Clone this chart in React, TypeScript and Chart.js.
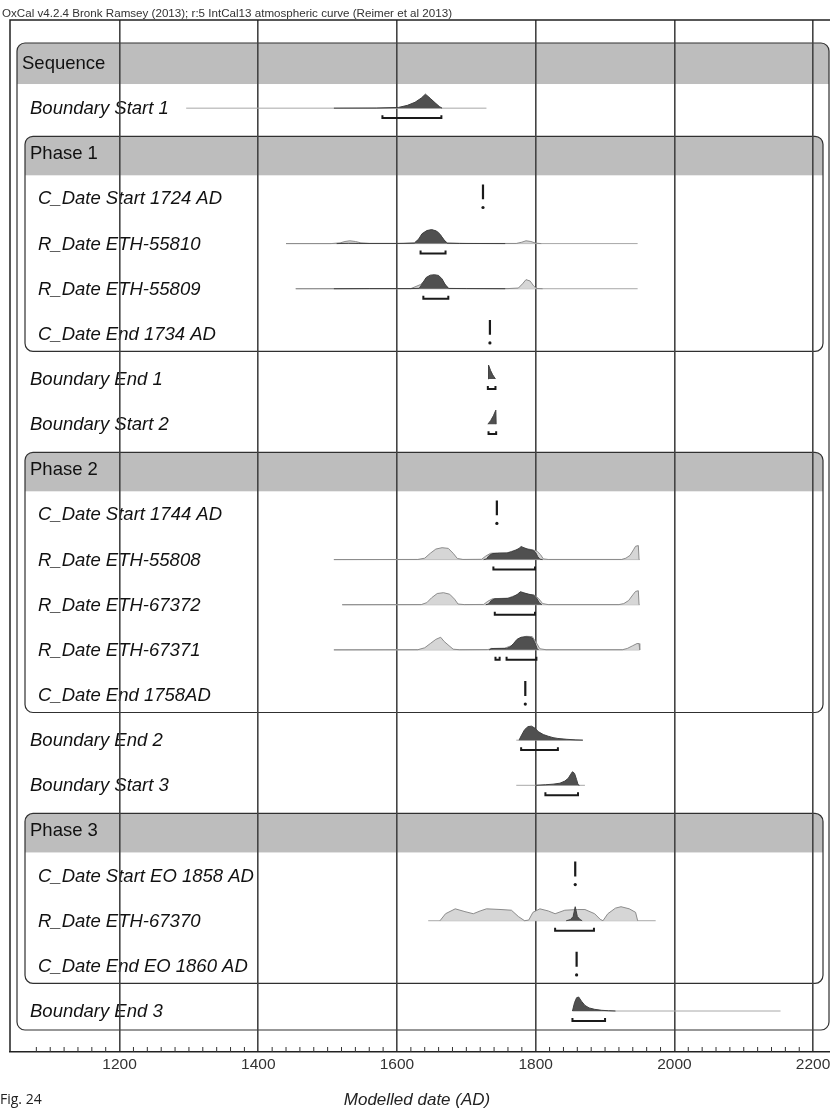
import React, { useEffect, useRef } from "react";
import { Chart, registerables } from "chart.js";

Chart.register(...registerables);

// ---------- texts ----------
const CHART_TITLE =
  "OxCal v4.2.4 Bronk Ramsey (2013); r:5 IntCal13 atmospheric curve (Reimer et al 2013)";
const AXIS_TITLE = "Modelled date (AD)";
const FIG_LABEL = "Fig. 24";

// ---------- axis ----------
const X_MIN = 1042;
const X_MAX = 2233;
const TICK_STEP = 20;
const LABEL_STEP = 200;

// ---------- rows ----------
const rowLabels = [
  "Sequence",
  "Boundary Start 1",
  "Phase 1",
  "C_Date Start 1724 AD",
  "R_Date ETH-55810",
  "R_Date ETH-55809",
  "C_Date End 1734 AD",
  "Boundary End 1",
  "Boundary Start 2",
  "Phase 2",
  "C_Date Start 1744 AD",
  "R_Date ETH-55808",
  "R_Date ETH-67372",
  "R_Date ETH-67371",
  "C_Date End 1758AD",
  "Boundary End 2",
  "Boundary Start 3",
  "Phase 3",
  "C_Date Start EO 1858 AD",
  "R_Date ETH-67370",
  "C_Date End EO 1860 AD",
  "Boundary End 3",
];
const rowKinds = [
  "sequence", "boundary", "phase", "item", "item", "item", "item",
  "boundary", "boundary", "phase", "item", "item", "item", "item", "item",
  "boundary", "boundary", "phase", "item", "item", "item", "boundary",
];

const sequenceFirst = 0;
const sequenceLast = 21;
const phaseFirst = [2, 9, 17];
const phaseLast = [6, 14, 20];

// ---------- C_Date point estimates ----------
const cDateRows = [3, 6, 10, 14, 18, 20];
const cDateYears = [1724, 1734, 1744, 1785, 1857, 1859];

// ---------- thin full-range lines ----------
const spanRows = [1, 4, 5, 11, 12, 13, 15, 16, 19, 21];
const spanFrom = [1296, 1440, 1454, 1509, 1521, 1509, 1772, 1772, 1645, 1853];
const spanTo = [1729, 1947, 1947, 1950, 1950, 1950, 1868, 1871, 1973, 2153];

// ---------- 95.4% range brackets ----------
const bracketRows = [1, 4, 5, 7, 8, 11, 12, 13, 13, 15, 16, 19, 21];
const bracketFrom = [1579, 1634, 1638, 1731, 1732, 1739, 1741, 1742, 1758, 1779, 1814, 1828, 1853];
const bracketTo = [1664, 1670, 1674, 1742, 1743, 1799, 1799, 1748, 1801, 1832, 1861, 1884, 1900];

// ---------- posterior (modelled) densities: [year, relative height] ----------
const postStart1 = [[1509, 0], [1570, 0.01], [1602, 0.05], [1615, 0.2], [1626, 0.42], [1635, 0.72], [1641, 1.0], [1648, 0.7], [1655, 0.38], [1661, 0.12], [1665, 0]];
const post55810 = [[1513, 0], [1530, 0.02], [1545, 0.01], [1600, 0.01], [1625, 0.03], [1631, 0.3], [1636, 0.7], [1643, 0.93], [1650, 1.0], [1657, 0.9], [1663, 0.6], [1668, 0.25], [1672, 0.03], [1690, 0.01], [1756, 0]];
const post55809 = [[1509, 0], [1560, 0.01], [1620, 0.01], [1632, 0.03], [1637, 0.4], [1642, 0.8], [1648, 0.97], [1654, 1.0], [1660, 0.95], [1665, 0.7], [1670, 0.25], [1674, 0.02], [1700, 0.01], [1756, 0]];
const postEnd1 = [[1731.5, 0], [1732, 1.0], [1735, 0.6], [1738, 0.3], [1742, 0]];
const postStart2 = [[1731, 0], [1735, 0.25], [1739, 0.6], [1742.5, 1.0], [1743, 0]];
const post55808 = [[1725, 0], [1729, 0.05], [1733, 0.3], [1738, 0.43], [1748, 0.45], [1758, 0.45], [1765, 0.55], [1771, 0.66], [1776, 0.8], [1779, 0.93], [1783, 0.85], [1789, 0.72], [1796, 0.66], [1800, 0.5], [1803, 0.2], [1806, 0.03], [1810, 0]];
const post67372 = [[1728, 0], [1732, 0.05], [1736, 0.3], [1741, 0.42], [1750, 0.43], [1760, 0.45], [1767, 0.55], [1773, 0.72], [1778, 0.93], [1783, 0.85], [1790, 0.74], [1797, 0.68], [1801, 0.5], [1805, 0.15], [1809, 0]];
const post67371 = [[1733, 0], [1736, 0.1], [1750, 0.1], [1758, 0.1], [1763, 0.2], [1768, 0.45], [1773, 0.75], [1779, 0.9], [1785, 0.93], [1790, 0.92], [1795, 0.85], [1799, 0.5], [1802, 0.1], [1804, 0]];
const postEnd2 = [[1776, 0], [1779, 0.3], [1784, 0.75], [1789, 0.97], [1794, 1.0], [1799, 0.85], [1804, 0.6], [1811, 0.4], [1818, 0.28], [1825, 0.18], [1832, 0.12], [1845, 0.06], [1858, 0.02], [1868, 0]];
const postStart3 = [[1800, 0], [1814, 0.04], [1825, 0.08], [1835, 0.15], [1842, 0.3], [1847, 0.5], [1850, 0.75], [1853, 0.97], [1856, 0.85], [1859, 0.4], [1861, 0.05], [1863, 0]];
const post67370 = [[1844, 0], [1850, 0.08], [1854, 0.3], [1857, 1.0], [1860, 0.3], [1864, 0.08], [1867, 0]];
const postEnd3 = [[1853, 0], [1856, 0.6], [1859, 0.95], [1862, 1.0], [1866, 0.7], [1871, 0.4], [1877, 0.22], [1885, 0.12], [1895, 0.05], [1905, 0.02], [1915, 0]];

const posteriorRows = [1, 4, 5, 7, 8, 11, 12, 13, 15, 16, 19, 21];
const posteriors = [postStart1, post55810, post55809, postEnd1, postStart2, post55808, post67372, post67371, postEnd2, postStart3, post67370, postEnd3];

// ---------- unmodelled (prior) likelihoods ----------
const prior55810 = [[1440, 0], [1505, 0], [1518, 0.05], [1525, 0.15], [1532, 0.2], [1540, 0.15], [1548, 0.05], [1560, 0.01], [1610, 0.01], [1625, 0.05], [1632, 0.35], [1640, 0.8], [1650, 0.88], [1660, 0.8], [1667, 0.3], [1673, 0.03], [1700, 0.01], [1772, 0.01], [1780, 0.1], [1786, 0.2], [1793, 0.15], [1800, 0.03], [1808, 0]];
const prior55809 = [[1454, 0], [1620, 0.01], [1634, 0.3], [1645, 0.85], [1660, 0.85], [1668, 0.4], [1675, 0.02], [1760, 0.01], [1775, 0.05], [1781, 0.35], [1786, 0.65], [1792, 0.55], [1797, 0.2], [1801, 0.02], [1810, 0]];
const prior55808 = [[1509, 0], [1630, 0.01], [1640, 0.1], [1648, 0.45], [1656, 0.75], [1665, 0.85], [1674, 0.8], [1681, 0.45], [1687, 0.08], [1695, 0.01], [1722, 0.02], [1728, 0.25], [1735, 0.45], [1745, 0.47], [1760, 0.5], [1775, 0.75], [1785, 0.8], [1795, 0.7], [1802, 0.6], [1807, 0.35], [1811, 0.05], [1818, 0.01], [1924, 0.01], [1930, 0.1], [1936, 0.3], [1941, 0.7], [1944, 0.95], [1948, 1.0], [1949, 0]];
const prior67372 = [[1521, 0], [1635, 0.01], [1643, 0.15], [1650, 0.5], [1658, 0.8], [1667, 0.86], [1676, 0.75], [1683, 0.4], [1688, 0.05], [1697, 0.01], [1725, 0.02], [1731, 0.25], [1738, 0.43], [1760, 0.47], [1775, 0.75], [1785, 0.8], [1798, 0.68], [1804, 0.45], [1810, 0.08], [1818, 0.01], [1920, 0.01], [1927, 0.08], [1934, 0.3], [1940, 0.7], [1944, 0.95], [1948, 1.0], [1949, 0]];
const prior67371 = [[1509, 0], [1630, 0.01], [1640, 0.15], [1648, 0.45], [1656, 0.75], [1663, 0.9], [1668, 0.6], [1675, 0.3], [1681, 0.05], [1690, 0.01], [1730, 0.02], [1740, 0.1], [1755, 0.12], [1765, 0.3], [1775, 0.8], [1786, 0.97], [1795, 0.95], [1801, 0.5], [1806, 0.08], [1815, 0.01], [1925, 0.01], [1932, 0.1], [1940, 0.3], [1946, 0.45], [1949, 0.45], [1950, 0]];
const prior67370 = [[1662, 0], [1670, 0.5], [1684, 0.85], [1698, 0.65], [1710, 0.5], [1720, 0.7], [1729, 0.85], [1750, 0.8], [1765, 0.75], [1775, 0.3], [1784, 0], [1790, 0.05], [1796, 0.6], [1806, 0.85], [1818, 0.7], [1828, 0.5], [1842, 0.75], [1860, 0.8], [1871, 0.8], [1885, 0.5], [1893, 0.1], [1897, 0], [1904, 0.5], [1915, 0.9], [1923, 1.0], [1935, 0.85], [1944, 0.6], [1947, 0]];

const priorRows = [4, 5, 11, 12, 13, 19];
const priors = [prior55810, prior55809, prior55808, prior67372, prior67371, prior67370];

// ---------- geometry in row units ----------
const AMP = 0.31; // density height
const BRACKET_OFF = 0.22;
const BRACKET_HOOK = 0.065;
const Y_MIN = -0.953;
const Y_MAX = 21.908;

const FONT = '"Liberation Sans", Arial, Helvetica, sans-serif';

function buildDatasets() {
  const ds: any[] = [];
  spanRows.forEach((r, i) => {
    ds.push({
      data: [{ x: spanFrom[i], y: r }, { x: spanTo[i], y: r }],
      borderColor: "#a8a8a8",
      borderWidth: 1,
      pointRadius: 0,
      fill: false,
      order: 4,
    });
  });
  priorRows.forEach((r, i) => {
    ds.push({
      data: priors[i].map(([x, h]) => ({ x, y: r - h * AMP })),
      borderColor: "#8c8c8c",
      backgroundColor: "#d6d6d6",
      borderWidth: 1,
      pointRadius: 0,
      fill: { value: r },
      order: 3,
    });
  });
  posteriorRows.forEach((r, i) => {
    ds.push({
      data: posteriors[i].map(([x, h]) => ({ x, y: r - h * AMP })),
      borderColor: "#404040",
      backgroundColor: "#505050",
      borderWidth: 1,
      pointRadius: 0,
      fill: { value: r },
      order: 2,
    });
  });
  bracketRows.forEach((r, i) => {
    const yb = r + BRACKET_OFF;
    ds.push({
      data: [
        { x: bracketFrom[i], y: yb - BRACKET_HOOK },
        { x: bracketFrom[i], y: yb },
        { x: bracketTo[i], y: yb },
        { x: bracketTo[i], y: yb - BRACKET_HOOK },
      ],
      borderColor: "#1a1a1a",
      borderWidth: 2,
      pointRadius: 0,
      fill: false,
      order: 1,
    });
  });
  cDateRows.forEach((r, i) => {
    ds.push({
      data: [{ x: cDateYears[i], y: r - AMP }, { x: cDateYears[i], y: r + 0.02 }],
      borderColor: "#1a1a1a",
      borderWidth: 2.2,
      pointRadius: 0,
      fill: false,
      order: 1,
    });
    ds.push({
      data: [{ x: cDateYears[i], y: r + BRACKET_OFF - 0.02 }],
      showLine: false,
      pointRadius: 1.6,
      pointBackgroundColor: "#1a1a1a",
      pointBorderWidth: 0,
      order: 1,
    });
  });
  return ds;
}

function roundedPath(ctx: CanvasRenderingContext2D, l: number, t: number, r: number, b: number, rad: number) {
  ctx.beginPath();
  ctx.moveTo(l + rad, t);
  ctx.lineTo(r - rad, t);
  ctx.arcTo(r, t, r, t + rad, rad);
  ctx.lineTo(r, b - rad);
  ctx.arcTo(r, b, r - rad, b, rad);
  ctx.lineTo(l + rad, b);
  ctx.arcTo(l, b, l, b - rad, rad);
  ctx.lineTo(l, t + rad);
  ctx.arcTo(l, t, l + rad, t, rad);
  ctx.closePath();
}

function drawGroupBox(ctx: CanvasRenderingContext2D, l: number, t: number, r: number, b: number, headerBottom: number) {
  ctx.save();
  roundedPath(ctx, l, t, r, b, 8);
  ctx.save();
  ctx.clip();
  ctx.fillStyle = "#bdbdbd";
  ctx.fillRect(l, t, r - l, headerBottom - t);
  ctx.restore();
  roundedPath(ctx, l, t, r, b, 8);
  ctx.strokeStyle = "#303030";
  ctx.lineWidth = 1.2;
  ctx.stroke();
  ctx.restore();
}

const oxcalPlugin = {
  id: "oxcalDecor",
  beforeDraw(chart: any) {
    const { ctx, scales } = chart;
    const ys = scales.y;
    ctx.save();
    ctx.fillStyle = "#ffffff";
    ctx.fillRect(0, 0, chart.width, chart.height);

    // Sequence box
    drawGroupBox(
      ctx, 17, ys.getPixelForValue(sequenceFirst) - 20, 829,
      ys.getPixelForValue(sequenceLast) + 19, ys.getPixelForValue(sequenceFirst) + 21
    );
    // Phase boxes
    phaseFirst.forEach((f, i) => {
      drawGroupBox(
        ctx, 25, ys.getPixelForValue(f) - 17, 823,
        ys.getPixelForValue(phaseLast[i]) + 17.5, ys.getPixelForValue(f) + 22
      );
    });

    // Row labels
    ctx.fillStyle = "#111";
    ctx.textBaseline = "alphabetic";
    ctx.textAlign = "left";
    rowLabels.forEach((t, i) => {
      const kind = rowKinds[i];
      const xPos = kind === "sequence" ? 22 : kind === "item" ? 38 : 30;
      const italic = kind === "boundary" || kind === "item";
      ctx.font = `${italic ? "italic " : ""}18.5px ${FONT}`;
      ctx.fillText(t, xPos, ys.getPixelForValue(i) + 6);
    });
    ctx.restore();
  },
  afterDraw(chart: any) {
    const { ctx, chartArea: a, scales } = chart;
    const xs = scales.x;
    ctx.save();
    // outer frame
    ctx.strokeStyle = "#222";
    ctx.lineWidth = 1.5;
    ctx.beginPath();
    ctx.moveTo(a.left, a.bottom);
    ctx.lineTo(a.left, a.top);
    ctx.lineTo(a.right, a.top);
    ctx.lineTo(a.right, a.bottom);
    ctx.stroke();
    // minor ticks
    ctx.lineWidth = 1;
    ctx.strokeStyle = "#333";
    xs.ticks.forEach((tk: any) => {
      const v = tk.value;
      if (v % TICK_STEP !== 0 || v % LABEL_STEP === 0) return;
      const px = xs.getPixelForValue(v);
      ctx.beginPath();
      ctx.moveTo(px, a.bottom);
      ctx.lineTo(px, a.bottom - 5);
      ctx.stroke();
    });
    // header text
    ctx.fillStyle = "#333";
    ctx.font = `10px ${FONT}`;
    ctx.textBaseline = "alphabetic";
    const w = ctx.measureText(CHART_TITLE).width;
    ctx.save();
    ctx.translate(2, 17);
    ctx.scale(450 / w, 1);
    ctx.fillText(CHART_TITLE, 0, 0);
    ctx.restore();
    // axis title
    ctx.fillStyle = "#222";
    ctx.font = `italic 17px ${FONT}`;
    ctx.textAlign = "center";
    ctx.textBaseline = "middle";
    ctx.fillText(AXIS_TITLE, 417, 1100);
    // figure label
    ctx.textAlign = "left";
    ctx.font = `14px "Open Sans", "DejaVu Sans", sans-serif`;
    ctx.fillText(FIG_LABEL, 0, 1100);
    ctx.restore();
  },
};

export default function App() {
  const canvasRef = useRef<HTMLCanvasElement | null>(null);

  useEffect(() => {
    const canvas = canvasRef.current;
    if (!canvas) return;
    const chart = new Chart(canvas, {
      type: "line",
      data: { datasets: buildDatasets() },
      options: {
        animation: false,
        responsive: false,
        maintainAspectRatio: false,
        devicePixelRatio: 1,
        layout: { padding: { left: 10, right: 2, top: 20, bottom: 0 } },
        elements: { line: { tension: 0 } },
        plugins: {
          legend: { display: false },
          tooltip: { enabled: false },
          title: { display: false },
        },
        scales: {
          x: {
            type: "linear",
            min: X_MIN,
            max: X_MAX,
            position: "bottom",
            afterFit: (s: any) => {
              s.height = 58;
            },
            grid: {
              color: (c: any) =>
                c.tick && c.tick.value % LABEL_STEP === 0 ? "#444" : "rgba(0,0,0,0)",
              lineWidth: 1.6,
              drawTicks: false,
            },
            border: { display: true, color: "#222", width: 1.5 },
            ticks: {
              stepSize: TICK_STEP,
              autoSkip: false,
              maxRotation: 0,
              padding: 3,
              color: "#333",
              font: { family: FONT, size: 15.5 },
              callback: (v: any) => (Number(v) % LABEL_STEP === 0 ? String(v) : ""),
            },
          },
          y: {
            type: "linear",
            reverse: true,
            min: Y_MIN,
            max: Y_MAX,
            display: false,
          },
        },
      },
      plugins: [oxcalPlugin],
    });
    return () => chart.destroy();
  }, []);

  return (
    <div
      style={{
        position: "absolute",
        left: 0,
        top: 0,
        width: 830,
        height: 1110,
        overflow: "hidden",
        background: "#fff",
      }}
    >
      <canvas ref={canvasRef} width={840} height={1110} style={{ display: "block" }} />
    </div>
  );
}
